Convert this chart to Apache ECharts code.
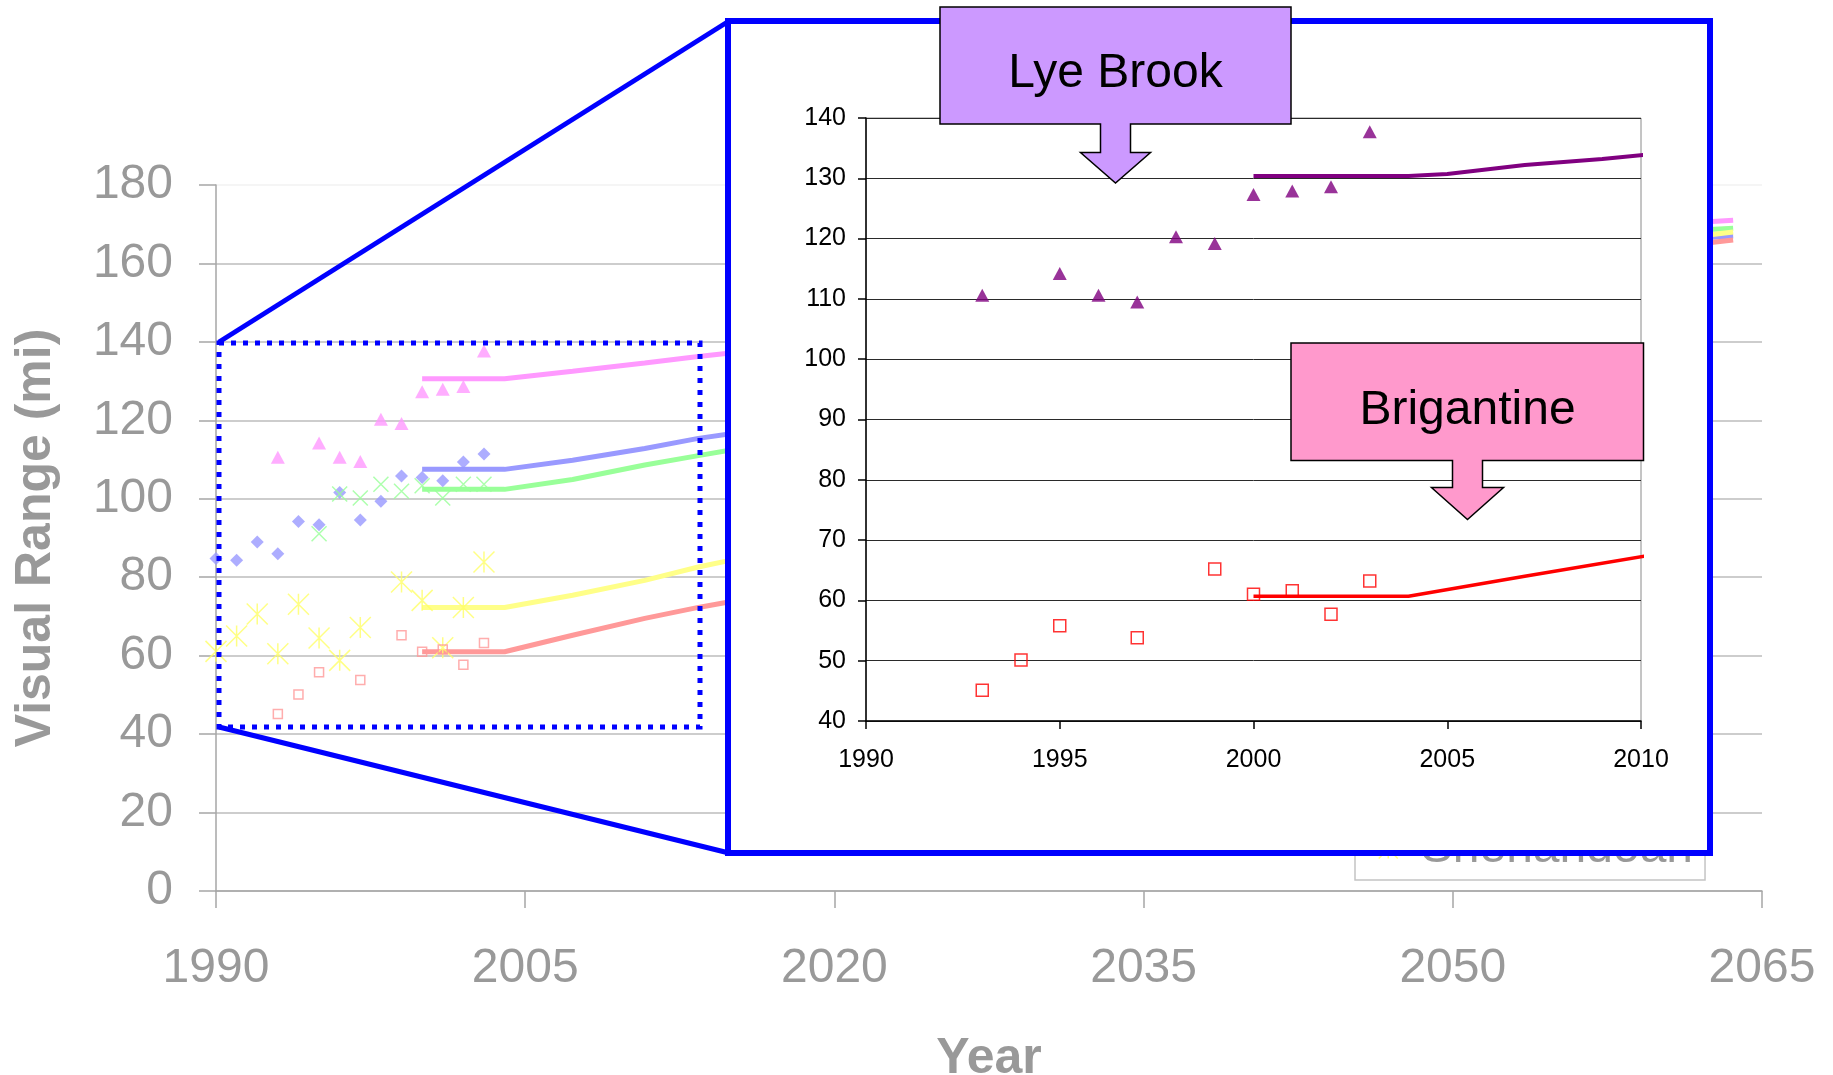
<!DOCTYPE html>
<html>
<head>
<meta charset="utf-8">
<title>Visual Range</title>
<script src="https://cdn.jsdelivr.net/npm/echarts@6/dist/echarts.min.js"></script>
<style>
html, body { margin: 0; padding: 0; background: #fff; }
#main { width: 1833px; height: 1075px; }
</style>
</head>
<body>
<div id="main"></div>
<script type="text/javascript">
// observed yearly values (visual range, mi)
var obsYears   = [1990, 1991, 1992, 1993, 1994, 1995, 1996, 1997, 1998, 1999, 2000, 2001, 2002, 2003];
var lyeBrook   = [null, null, null, 110.6, null, 114.2, 110.6, 109.5, 120.3, 119.2, 127.3, 127.9, 128.6, 137.7];
var brigantine = [null, null, null, 45.1, 50.1, 55.8, null, 53.8, null, 65.2, 61.0, 61.6, 57.7, 63.2];
var siteDiamond = [84.8, 84.3, 89.0, 86.0, 94.2, 93.4, 101.6, 94.6, 99.4, 105.8, 105.4, 104.6, 109.4, 111.4];
var siteCross  = [null, null, null, null, null, 91.1, 101.2, 100.2, 103.7, 101.9, 103.3, 100.2, 103.7, 103.7];
var shenandoah = [61.1, 65.0, 70.6, 60.5, 73.1, 64.5, 58.8, 67.2, null, 78.8, 74.1, 62.0, 72.3, 83.9];

// glide paths, big chart
var glideYears       = [2000, 2004, 2007.3, 2010.8, 2013.4, 2015.4, 2062, 2063.6];
var glideLyeBrook    = [130.6, 130.6, 132.5, 134.6, 136.3, 137.4, 170.5, 171];
var glideDiamond     = [107.5, 107.5, 109.8, 112.8, 115.4, 116.9, 166.5, 167];
var glideCross       = [102.4, 102.4, 104.9, 108.6, 111.0, 112.8, 168.5, 169];
var glideShenandoah  = [72.3, 72.3, 75.4, 79.2, 82.6, 84.8, 167, 168];
var glideBrigantine  = [61.0, 61.0, 65.2, 69.5, 72.3, 74.2, 165, 166];

// glide paths, zoomed chart
var zoomLyeYears = [2000, 2004, 2005, 2007, 2009, 2010.25];
var zoomLyeVals  = [130.4, 130.4, 130.7, 132.2, 133.2, 134.0];
var zoomBriYears = [2000, 2004, 2007, 2010.25];
var zoomBriVals  = [60.7, 60.7, 64.0, 67.5];

var FONT = "'Liberation Sans', Arial, sans-serif";
var crossPath = 'path://M0,0L10,10M10,0L0,10';
var starPath = 'path://M0,0L10,10M10,0L0,10M5,0L5,10';

function pts(xs, ys) {
	var out = [];
	for (var i = 0; i < xs.length; i++) {
		if (ys[i] != null) out.push([xs[i], ys[i]]);
	}
	return out;
}

function glide(name, ys, color) {
	return { name: name, type: 'line', xAxisIndex: 0, yAxisIndex: 0, showSymbol: false,
		data: pts(glideYears, ys), lineStyle: { color: color, width: 5 }, itemStyle: { color: color },
		silent: true, z: 2 };
}

function plain(v) { return String(v); }

var myChart = echarts.init(document.getElementById('main'));

var gridColors = [];
for (var k = 0; k < 9; k++) gridColors.push('#bdbdbd');
gridColors.push('#f2f2f2');

var option = {
	animation: false,
	grid: [
		{ left: 216, top: 185, width: 1546, height: 706, outerBoundsMode: 'none', containLabel: false },
		{ left: 866, top: 118, width: 775, height: 603, outerBoundsMode: 'none', containLabel: false,
			show: true, borderColor: '#8a8a8a', borderWidth: 1, z: 10 }
	],
	xAxis: [
		{
			gridIndex: 0, type: 'value', min: 1990, max: 2065, interval: 15,
			name: 'Year', nameLocation: 'middle', nameGap: 143,
			nameTextStyle: { fontSize: 50, fontWeight: 'bold', color: '#999', fontFamily: FONT },
			axisLine: { lineStyle: { color: '#a6a6a6', width: 1.5 } },
			axisTick: { length: 17, lineStyle: { color: '#a6a6a6', width: 1.5 } },
			axisLabel: { margin: 54, fontSize: 48, color: '#999', fontFamily: FONT, formatter: plain },
			splitLine: { show: false }
		},
		{
			gridIndex: 1, type: 'value', min: 1990, max: 2010, interval: 5, z: 10,
			axisLine: { lineStyle: { color: '#000', width: 1.5 } },
			axisTick: { length: 8, lineStyle: { color: '#000', width: 1.5 } },
			axisLabel: { margin: 27, fontSize: 25, color: '#000', fontFamily: FONT, formatter: plain },
			splitLine: { show: false }
		}
	],
	yAxis: [
		{
			gridIndex: 0, type: 'value', min: 0, max: 180, interval: 20,
			name: 'Visual Range (mi)', nameLocation: 'middle', nameGap: 155,
			nameTextStyle: { fontSize: 50, fontWeight: 'bold', color: '#999', fontFamily: FONT },
			axisLine: { show: true, lineStyle: { color: '#a6a6a6', width: 1.5 } },
			axisTick: { show: true, length: 17, lineStyle: { color: '#a6a6a6', width: 1.5 } },
			axisLabel: { margin: 43, fontSize: 48, color: '#999', fontFamily: FONT },
			splitLine: { lineStyle: { color: gridColors, width: 1.5 } }
		},
		{
			gridIndex: 1, type: 'value', min: 40, max: 140, interval: 10, z: 10,
			axisLine: { show: true, lineStyle: { color: '#000', width: 1.5 } },
			axisTick: { show: true, length: 8, lineStyle: { color: '#000', width: 1.5 } },
			axisLabel: { margin: 20, fontSize: 25, color: '#000', fontFamily: FONT },
			splitLine: { lineStyle: { color: '#2a2a2a', width: 1 } }
		}
	],
	legend: {
		data: [{ name: 'Shenandoah', icon: starPath,
			itemStyle: { color: 'transparent', borderColor: '#ffff66', borderWidth: 1.5 } }],
		orient: 'vertical', left: 1355, top: 820,
		padding: [5, 12, 7, 23], itemWidth: 21, itemHeight: 19,
		borderColor: '#c4c4c4', borderWidth: 1.5, backgroundColor: '#fff',
		selectedMode: false,
		textStyle: { fontSize: 48, color: '#999', fontFamily: FONT, padding: [0, 0, 0, 17] }
	},
	graphic: [
		// zoom region on the big chart
		{ type: 'rect', z: 5, shape: { x: 219, y: 343, width: 481, height: 384 },
			style: { fill: 'none', stroke: '#0000ff', lineWidth: 5, lineDash: [5, 7] } },
		{ type: 'line', z: 5, shape: { x1: 219, y1: 342, x2: 729, y2: 21 },
			style: { stroke: '#0000ff', lineWidth: 5 } },
		{ type: 'line', z: 5, shape: { x1: 219, y1: 727, x2: 729, y2: 853 },
			style: { stroke: '#0000ff', lineWidth: 5 } },
		// inset frame
		{ type: 'rect', z: 6, shape: { x: 728, y: 21, width: 982, height: 832 },
			style: { fill: '#fff', stroke: '#0000ff', lineWidth: 6 } },
		// callouts
		{ type: 'polygon', z: 12, shape: { points: [[940, 7], [1291, 7], [1291, 124], [1130.5, 124], [1130.5, 152.5],
			[1150.5, 152.5], [1115.5, 183], [1080.5, 152.5], [1100.5, 152.5], [1100.5, 124], [940, 124]] },
			style: { fill: '#cc99ff', stroke: '#000', lineWidth: 1.5 } },
		{ type: 'text', z: 13, x: 1115.5, y: 74,
			style: { text: 'Lye Brook', fontSize: 48, fontFamily: FONT, fill: '#000', align: 'center', verticalAlign: 'middle' } },
		{ type: 'polygon', z: 12, shape: { points: [[1291, 343], [1643.5, 343], [1643.5, 460.5], [1482.5, 460.5], [1482.5, 487.5],
			[1503.5, 487.5], [1467.5, 519.5], [1431.5, 487.5], [1452.5, 487.5], [1452.5, 460.5], [1291, 460.5]] },
			style: { fill: '#ff99cc', stroke: '#000', lineWidth: 1.5 } },
		{ type: 'text', z: 13, x: 1467.5, y: 411,
			style: { text: 'Brigantine', fontSize: 48, fontFamily: FONT, fill: '#000', align: 'center', verticalAlign: 'middle' } }
	],
	series: [
		glide('Lye Brook glide', glideLyeBrook, '#ff99ff'),
		glide('Diamond glide', glideDiamond, '#9999ff'),
		glide('Cross glide', glideCross, '#99ff99'),
		glide('Shenandoah glide', glideShenandoah, '#ffff88'),
		glide('Brigantine glide', glideBrigantine, '#ff9999'),
		{ name: 'Lye Brook light', type: 'scatter', xAxisIndex: 0, yAxisIndex: 0, clip: false, z: 3,
			symbol: 'triangle', symbolSize: [14, 13], itemStyle: { color: '#ff99ff' },
			data: pts(obsYears, lyeBrook) },
		{ name: 'Diamond site', type: 'scatter', xAxisIndex: 0, yAxisIndex: 0, clip: false, z: 3,
			symbol: 'diamond', symbolSize: [13, 13], itemStyle: { color: '#9999ff' },
			data: pts(obsYears, siteDiamond) },
		{ name: 'Cross site', type: 'scatter', xAxisIndex: 0, yAxisIndex: 0, clip: false, z: 3,
			symbol: crossPath, symbolSize: 15,
			itemStyle: { color: 'transparent', borderColor: '#99ff99', borderWidth: 1.5 },
			data: pts(obsYears, siteCross) },
		{ name: 'Shenandoah', type: 'scatter', xAxisIndex: 0, yAxisIndex: 0, clip: false, z: 3,
			symbol: starPath, symbolSize: 21,
			itemStyle: { color: 'transparent', borderColor: '#ffff66', borderWidth: 1.5 },
			data: pts(obsYears, shenandoah) },
		{ name: 'Brigantine light', type: 'scatter', xAxisIndex: 0, yAxisIndex: 0, clip: false, z: 3,
			symbol: 'rect', symbolSize: 9,
			itemStyle: { color: 'transparent', borderColor: '#ff9999', borderWidth: 1.5 },
			data: pts(obsYears, brigantine) },
		// zoomed chart
		{ name: 'Lye Brook path', type: 'line', xAxisIndex: 1, yAxisIndex: 1, showSymbol: false, clip: false, z: 11,
			lineStyle: { color: '#800080', width: 4 }, itemStyle: { color: '#800080' },
			data: pts(zoomLyeYears, zoomLyeVals) },
		{ name: 'Brigantine path', type: 'line', xAxisIndex: 1, yAxisIndex: 1, showSymbol: false, clip: false, z: 11,
			lineStyle: { color: '#ff0000', width: 3.5 }, itemStyle: { color: '#ff0000' },
			data: pts(zoomBriYears, zoomBriVals) },
		{ name: 'Lye Brook', type: 'scatter', xAxisIndex: 1, yAxisIndex: 1, clip: false, z: 11,
			symbol: 'triangle', symbolSize: [14, 13], itemStyle: { color: '#800080' },
			data: pts(obsYears, lyeBrook) },
		{ name: 'Brigantine', type: 'scatter', xAxisIndex: 1, yAxisIndex: 1, clip: false, z: 11,
			symbol: 'rect', symbolSize: 12,
			itemStyle: { color: 'transparent', borderColor: '#ff0000', borderWidth: 1.5 },
			data: pts(obsYears, brigantine) }
	]
};
myChart.setOption(option);
</script>
</body>
</html>
